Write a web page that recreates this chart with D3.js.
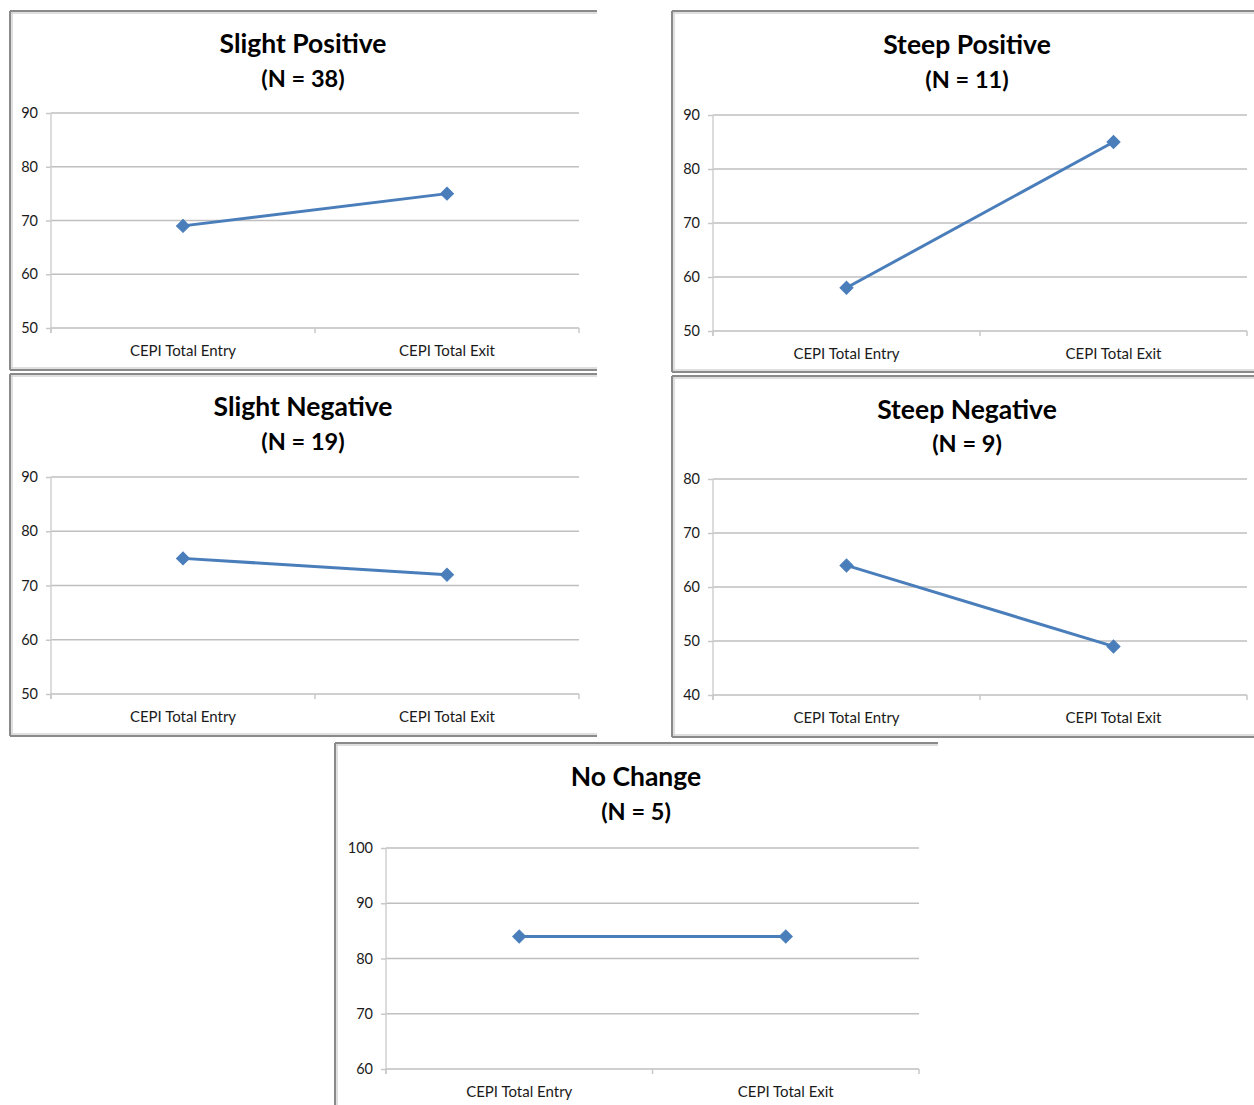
<!DOCTYPE html>
<html>
<head>
<meta charset="utf-8">
<script src="https://cdn.jsdelivr.net/npm/d3@7/dist/d3.min.js"></script>
<style>
  html, body { margin: 0; padding: 0; background: #fff; }
  svg { display: block; }
  text { font-family: Lato, "Open Sans", sans-serif; }
</style>
</head>
<body>
<svg id="chart" width="1254" height="1105"></svg>
<script>
// ---- data ----
const panelTitles = ["Slight Positive", "Steep Positive", "Slight Negative", "Steep Negative", "No Change"];
const panelCounts = [38, 11, 19, 9, 5];
const categories = ["CEPI Total Entry", "CEPI Total Exit"];
const entryValues = [69, 58, 75, 64, 84];
const exitValues = [75, 85, 72, 49, 84];
const yDomains = [[50, 90], [50, 90], [50, 90], [40, 80], [60, 100]];
const yTickValues = [
  [50, 60, 70, 80, 90],
  [50, 60, 70, 80, 90],
  [50, 60, 70, 80, 90],
  [40, 50, 60, 70, 80],
  [60, 70, 80, 90, 100]
];

// ---- layout of the five chart boxes ----
const layout = [
  { frame: { l: 10, t: 11, r: 597, b: 370 }, sides: "ltb", plot: { x0: 51, x1: 579, y0: 113, y1: 328 }, cx: 303, titleY: 43, countY: 78 },
  { frame: { l: 672, t: 11, r: 1262, b: 372 }, sides: "ltb", plot: { x0: 713, x1: 1247, y0: 115, y1: 331 }, cx: 967, titleY: 44, countY: 79 },
  { frame: { l: 10, t: 374, r: 597, b: 736 }, sides: "ltb", plot: { x0: 51, x1: 579, y0: 477, y1: 694 }, cx: 303, titleY: 406, countY: 441 },
  { frame: { l: 672, t: 376, r: 1262, b: 737 }, sides: "ltb", plot: { x0: 713, x1: 1247, y0: 479, y1: 695 }, cx: 967, titleY: 409, countY: 443 },
  { frame: { l: 335, t: 743, r: 938, b: 1120 }, sides: "lt", plot: { x0: 386, x1: 919, y0: 848, y1: 1069 }, cx: 636, titleY: 776, countY: 811 }
];

const lineColor = "#4a7ebb";
const gridColor = "#bfbfbf";
const svg = d3.select("#chart");

panelTitles.forEach((title, i) => {
  const L = layout[i];
  const g = svg.append("g");

  // chart box border: dark edge with a light inner edge
  const f = L.frame;
  const edges = [];
  if (L.sides.includes("l")) edges.push([[f.l, f.t], [f.l, f.b]]);
  if (L.sides.includes("t")) edges.push([[f.l, f.t], [f.r, f.t]]);
  if (L.sides.includes("b")) edges.push([[f.l, f.b], [f.r, f.b]]);
  const inner = edges.map(e => {
    const vertical = e[0][0] === e[1][0];
    const isBottom = !vertical && e[0][1] === f.b;
    const d = isBottom ? -2 : 2;
    return vertical ? [[e[0][0] + 2, e[0][1]], [e[1][0] + 2, e[1][1]]]
                    : [[e[0][0], e[0][1] + d], [e[1][0], e[1][1] + d]];
  });
  g.selectAll("path.inner").data(inner).join("path")
    .attr("d", d3.line()).attr("stroke", "#d4d4d4").attr("stroke-width", 1.5).attr("fill", "none");
  g.selectAll("path.edge").data(edges).join("path")
    .attr("d", d3.line()).attr("stroke", "#8a8a8a").attr("stroke-width", 2).attr("fill", "none");

  // titles
  g.append("text")
    .attr("x", L.cx).attr("y", L.titleY)
    .attr("text-anchor", "middle").attr("dominant-baseline", "central")
    .attr("font-weight", "bold").attr("font-size", 26.5).attr("fill", "#000")
    .text(title);
  g.append("text")
    .attr("x", L.cx).attr("y", L.countY)
    .attr("text-anchor", "middle").attr("dominant-baseline", "central")
    .attr("font-weight", "bold").attr("font-size", 23.5).attr("fill", "#000")
    .text(`(N = ${panelCounts[i]})`);

  const P = L.plot;
  const x = d3.scaleBand().domain(categories).range([P.x0, P.x1]).paddingInner(0).paddingOuter(0);
  const y = d3.scaleLinear().domain(yDomains[i]).range([P.y1, P.y0]);

  // horizontal gridlines
  g.append("g")
    .selectAll("line")
    .data(yTickValues[i].filter(v => v !== yDomains[i][0]))
    .join("line")
    .attr("x1", P.x0).attr("x2", P.x1)
    .attr("y1", d => y(d)).attr("y2", d => y(d))
    .attr("stroke", gridColor).attr("stroke-width", 1.5);

  // y axis
  const yAxis = g.append("g")
    .attr("transform", `translate(${P.x0},0)`)
    .call(d3.axisLeft(y).tickValues(yTickValues[i]).tickSize(5).tickPadding(8).tickSizeOuter(0));
  yAxis.select(".domain").attr("stroke", "#d0d0d0").attr("stroke-width", 1.5)
    .attr("d", `M0,${P.y0}V${P.y1 + 5}`);
  yAxis.selectAll(".tick line").attr("stroke", "#c8c8c8").attr("stroke-width", 1.5);
  yAxis.selectAll(".tick text").attr("font-size", 14.5).attr("fill", "#1a1a1a")
    .attr("font-family", "Lato, sans-serif");

  // x axis with tick marks at category boundaries
  const xAxisG = g.append("g").attr("transform", `translate(0,${P.y1})`);
  xAxisG.append("line")
    .attr("x1", P.x0).attr("x2", P.x1).attr("y1", 0).attr("y2", 0)
    .attr("stroke", gridColor).attr("stroke-width", 1.5);
  const bounds = categories.map(c => x(c)).concat([x(categories[categories.length - 1]) + x.bandwidth()]);
  xAxisG.selectAll("line.tick").data(bounds).join("line")
    .attr("x1", d => d).attr("x2", d => d).attr("y1", 0).attr("y2", 5)
    .attr("stroke", "#c8c8c8").attr("stroke-width", 1.5);
  xAxisG.selectAll("text").data(categories).join("text")
    .attr("x", d => x(d) + x.bandwidth() / 2).attr("y", 22)
    .attr("text-anchor", "middle").attr("dominant-baseline", "central")
    .attr("font-size", 15).attr("fill", "#1a1a1a")
    .text(d => d);

  // series line and diamond markers
  const pts = [
    { c: categories[0], v: entryValues[i] },
    { c: categories[1], v: exitValues[i] }
  ];
  const cxOf = d => x(d.c) + x.bandwidth() / 2;
  g.append("path")
    .datum(pts)
    .attr("d", d3.line().x(cxOf).y(d => y(d.v)))
    .attr("fill", "none").attr("stroke", lineColor).attr("stroke-width", 3);
  g.selectAll("path.marker").data(pts).join("path")
    .attr("class", "marker")
    .attr("d", d3.symbol(d3.symbolSquare, 85))
    .attr("transform", d => `translate(${cxOf(d)},${y(d.v)}) rotate(45)`)
    .attr("fill", lineColor).attr("stroke", lineColor).attr("stroke-width", 1);
});
</script>
</body>
</html>
